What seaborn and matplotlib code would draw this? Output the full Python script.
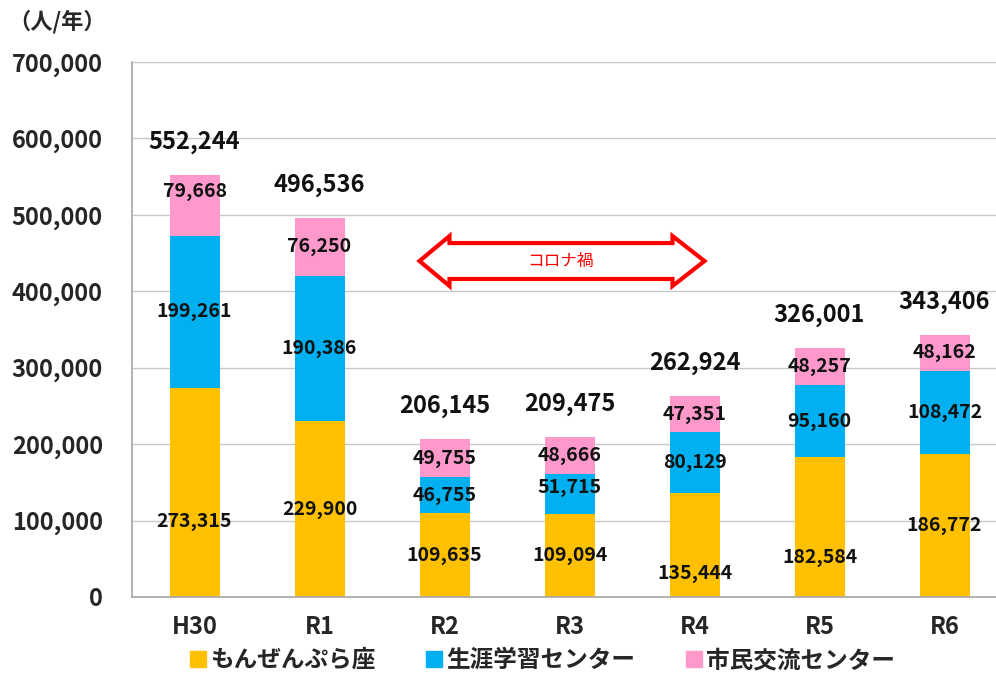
import matplotlib
matplotlib.use("Agg")
import matplotlib.pyplot as plt
import seaborn as sns
import numpy as np
import pandas as pd
from matplotlib.patches import Polygon
from matplotlib.lines import Line2D

# data
years = ["H30", "R1", "R2", "R3", "R4", "R5", "R6"]
monzen = [273315, 229900, 109635, 109094, 135444, 182584, 186772]
shogai = [199261, 190386, 46755, 51715, 80129, 95160, 108472]
shimin = [79668, 76250, 49755, 48666, 47351, 48257, 48162]
series_names = ["もんぜんぷら座", "生涯学習センター", "市民交流センター"]
colors = ["#FFC000", "#00B0F0", "#FF99CC"]

sns.set_style("white")
plt.rcParams['font.family'] = ['Noto Sans CJK JP', 'DejaVu Sans']

fig = plt.figure(figsize=(9.96, 6.74), dpi=100)
ax = fig.add_axes([132 / 996, 77 / 674, 875 / 996, 535 / 674])

m = np.array(monzen)
s = np.array(shogai)
c = np.array(shimin)
totals = m + s + c

# stacked via overlapping cumulative bars
df = pd.DataFrame({"year": years, "top": totals, "mid": m + s, "low": m})
for col, fc in [("top", colors[2]), ("mid", colors[1]), ("low", colors[0])]:
    sns.barplot(data=df, x="year", y=col, color=fc, saturation=1, width=0.4, ax=ax,
                linewidth=0, edgecolor=fc, zorder=2)

ax.set_xlim(-0.5, 6.5)
ax.set_ylim(0, 700000)
ax.set_yticks(range(0, 700001, 100000))
ax.set_yticklabels([f"{v:,}" for v in range(0, 700001, 100000)])
ax.set_xlabel("")
ax.set_ylabel("")
ax.yaxis.grid(True, color="#C8C8C8", linewidth=1, zorder=0)
ax.set_axisbelow(True)

for side in ["top", "right"]:
    ax.spines[side].set_visible(False)
for side in ["left", "bottom"]:
    ax.spines[side].set_color("#A6A6A6")
    ax.spines[side].set_linewidth(1.2)

ax.tick_params(axis="y", direction="out", length=5, width=1, color="#A6A6A6",
               pad=16, labelsize=17)
ax.set_xticks(np.arange(-0.5, 7, 1), minor=True)
ax.tick_params(axis="x", which="minor", direction="out", length=6, width=1, color="#A6A6A6")
ax.tick_params(axis="x", which="major", length=0, pad=13, labelsize=17)
for lab in ax.get_xticklabels() + ax.get_yticklabels():
    lab.set_fontweight("bold")

# segment labels (pixel nudges where the original was moved by hand)
low_nudge = [-29, 0, 0, 0, -28, -30, 0]
mid_nudge = [0, 0, 0, 6, 0, 0, 0]
top_nudge = [14, 0, 0, 0, 0, 0, 0]
for i in range(len(years)):
    ax.annotate(f"{m[i]:,}", (i, m[i] / 2), xytext=(0, low_nudge[i]), textcoords="offset pixels",
                ha="center", va="center", fontsize=14, fontweight="bold", color="#111111")
    ax.annotate(f"{s[i]:,}", (i, m[i] + s[i] / 2), xytext=(0, mid_nudge[i]), textcoords="offset pixels",
                ha="center", va="center", fontsize=14, fontweight="bold", color="#111111")
    ax.annotate(f"{c[i]:,}", (i, m[i] + s[i] + c[i] / 2), xytext=(0, top_nudge[i]), textcoords="offset pixels",
                ha="center", va="center", fontsize=14, fontweight="bold", color="#111111")

# totals above bars
for i in range(len(years)):
    ax.annotate(f"{totals[i]:,}", (i, totals[i]), xytext=(0, 33), textcoords="offset pixels",
                ha="center", va="center", fontsize=17, fontweight="bold", color="#111111")

# コロナ禍 double arrow
yc, hs, hh = 439600, 23500, 32700
xl, xlb, xrb, xr = 1.8, 2.04, 3.824, 4.08
arrow = Polygon([(xl, yc), (xlb, yc + hh), (xlb, yc + hs), (xrb, yc + hs), (xrb, yc + hh),
                 (xr, yc), (xrb, yc - hh), (xrb, yc - hs), (xlb, yc - hs), (xlb, yc - hh)],
                closed=True, facecolor="white", edgecolor="#FF0000", linewidth=3, zorder=4)
ax.add_patch(arrow)
ax.text(2.93, yc, "コロナ禍", ha="center", va="center", fontsize=12, color="#FF0000", zorder=5)

# unit label
fig.text(8 / 996, 1 - 22 / 674, "（人/年）", ha="left", va="center", fontsize=16, fontweight="bold")

# legend
handles = [Line2D([], [], marker="s", linestyle="", markersize=11, markerfacecolor=col,
                  markeredgecolor=col) for col in colors]
fig.legend(handles, series_names, loc="center", bbox_to_anchor=(0.545, 1 - 660 / 674), ncol=3,
           frameon=False, prop={"size": 17, "weight": "bold"}, handlelength=0.6,
           handletextpad=0.2, columnspacing=2.2)

fig.savefig("out.png", dpi=100)
